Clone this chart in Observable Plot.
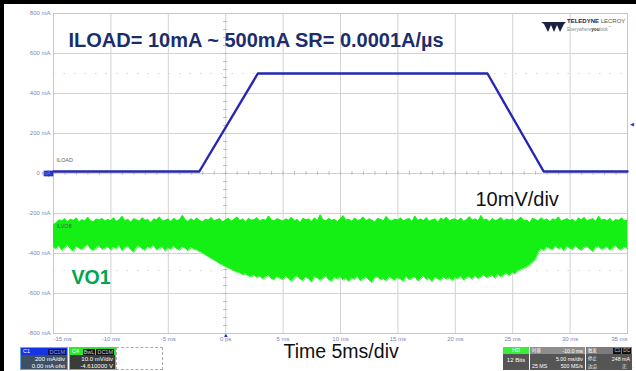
<!DOCTYPE html>
<html>
<head>
<meta charset="utf-8">
<script src="https://cdn.jsdelivr.net/npm/d3@7"></script>
<script src="https://cdn.jsdelivr.net/npm/@observablehq/plot@0.6"></script>
<style>
  html, body { margin: 0; padding: 0; background: #fff; }
  #wrap { position: relative; width: 636px; height: 371px; overflow: hidden; background: #fff;
          font-family: "Liberation Sans", Arial, sans-serif; }
  #wrap > svg { position: absolute; left: 0; top: 0; }
  .edge { position: absolute; background: #000; }
  .box { position: absolute; font-size: 6px; line-height: 7px; color: #fff; box-sizing: border-box; overflow: hidden; }
  .hdr { height: 7px; position: relative; font-size: 5.5px; line-height: 7px; padding: 0 2px; white-space: nowrap; }
  .bd  { padding: 1px 2px 0 2px; text-align: right; white-space: pre; }
  .t { position: absolute; white-space: nowrap; font-size: 5.3px; line-height: 6px; }
  .chip { display: inline-block; background: #111; color: #ccc; padding: 0 1px; margin-left: 1px; line-height: 6px; }
  .cjk { font-family: "Noto Sans CJK SC", sans-serif; font-size: 4.4px; line-height: 5px; }
  #logo { position: absolute; left: 540px; top: 17px; width: 92px; height: 16px; }
</style>
</head>
<body>
<div id="wrap"></div>
<script>
// Horizontal time axis (ms), 5 ms per division
const timeTicks = [-15, -10, -5, 0, 5, 10, 15, 20, 25, 30, 35];
const timeTickLabels = ["-15 ms", "-10 ms", "-5 ms", "0 ps", "5 ms", "10 ms", "15 ms", "20 ms", "25 ms", "30 ms", "35 ms"];

// Vertical axis (C1 scale, 200 mA per division)
const levelTicks = [800, 600, 400, 200, 0, -200, -400, -600, -800];
const levelTickLabels = ["800 mA", "600 mA", "400 mA", "200 mA", "0 mA", "-200 mA", "-400 mA", "-600 mA", "-800 mA"];

// ILOAD (C1): corner points of the load step, mA
const iloadTime = [-15, -2.3, 2.8, 22.8, 27.7, 35];
const iloadMA   = [10, 10, 500, 500, 10, 10];

// VO1 (C4) ripple envelope, one pair every 0.25 ms, in grid units (200 per 10 mV div)
const vo1Start = -15, vo1Step = 0.25;
const vo1Top = [
  -258, -246, -232, -238, -226, -241, -229, -235, -222, -244, -231, -237, -219, -236, -243, -228, -234, -225, -239, -230,
  -236, -222, -240, -231, -214, -237, -229, -245, -226, -233, -239, -221, -235, -230, -247, -227, -232, -218, -238, -234,
  -228, -241, -224, -236, -231, -209, -233, -240, -226, -237, -222, -235, -243, -229, -234, -220, -238, -231, -226, -242,
  -233, -224, -239, -230, -217, -236, -228, -244, -225, -234, -231, -221, -240, -229, -235, -212, -233, -238, -226, -232,
  -239, -227, -234, -219, -237, -230, -246, -224, -232, -228, -241, -222, -236, -206, -231, -238, -225, -235, -229, -243,
  -226, -211, -234, -229, -240, -223, -236, -231, -218, -238, -227, -233, -244, -225, -230, -237, -215, -232, -239, -228,
  -234, -222, -238, -230, -225, -241, -213, -235, -228, -236, -221, -239, -232, -227, -245, -224, -233, -219, -237, -230,
  -228, -236, -223, -240, -231, -216, -234, -227, -238, -210, -232, -229, -242, -225, -236, -231, -220, -239, -228, -234,
  -226, -241, -230, -219, -237, -233, -246, -224, -231, -238, -222, -235, -228, -243, -227, -234, -217, -239, -232, -226,
  -236, -229, -244, -223, -233, -220, -238, -231, -226, -240, -214, -234, -229, -237, -225, -242, -230, -235, -222, -238,
  -233
];
const vo1Bottom = [
  -368, -379, -364, -385, -371, -360, -377, -390, -366, -374, -382, -369, -357, -378, -386, -372, -363, -380, -375, -367,
  -383, -370, -376, -361, -388, -373, -366, -381, -395, -371, -364, -378, -385, -369, -374, -360, -382, -376, -367, -389,
  -372, -380, -365, -377, -384, -369, -375, -388, -370, -379, -383, -391, -397, -408, -416, -425, -434, -441, -452, -458,
  -466, -474, -480, -487, -494, -498, -506, -503, -512, -517, -509, -521, -515, -528, -519, -511, -526, -533, -518, -524,
  -531, -516, -525, -540, -522, -513, -529, -536, -520, -527, -544, -518, -523, -535, -526, -514, -532, -539, -521, -528,
  -517, -534, -526, -541, -522, -530, -515, -537, -528, -520, -533, -546, -524, -518, -531, -527, -538, -519, -525, -535,
  -522, -529, -540, -516, -533, -525, -519, -537, -528, -514, -531, -524, -542, -520, -527, -535, -517, -530, -523, -536,
  -521, -528, -515, -533, -524, -518, -530, -512, -526, -520, -507, -523, -516, -511, -525, -504, -518, -509, -500, -512,
  -496, -503, -488, -481, -475, -467, -458, -446, -432, -395, -378, -386, -369, -375, -382, -364, -377, -371, -388, -366,
  -374, -381, -362, -377, -385, -370, -367, -379, -391, -373, -365, -380, -376, -368, -384, -372, -361, -378, -383, -370,
  -375
];

// Trigger: level on C1 (mA) and position (ms)
const triggerLevel = 248;
const triggerTime = 0;

// Faint reference levels
const refLevels = [500, -485];

const iload = iloadTime.map((t, i) => ({t, v: iloadMA[i]}));
const vo1 = vo1Top.map((hi, i) => ({t: vo1Start + i * vo1Step, hi, lo: vo1Bottom[i]}));

const minorTime = d3.range(-15, 35.01, 1);
const minorLevel = d3.range(-800, 800.01, 40);

const tickLabel = (ticks, labels) => d => labels[ticks.indexOf(d)];
const axisColor = "#7f7fb8";

const chart = Plot.plot({
  width: 636,
  height: 371,
  marginLeft: 53,
  marginRight: 9,
  marginTop: 13,
  marginBottom: 38,
  x: {domain: [-15, 35]},
  y: {domain: [-800, 800]},
  style: {fontFamily: "Liberation Sans, Arial, sans-serif", background: "transparent", overflow: "visible"},
  marks: [
    Plot.gridX(timeTicks, {stroke: "#d2d2d2", strokeOpacity: 1}),
    Plot.gridY(levelTicks, {stroke: "#d2d2d2", strokeOpacity: 1}),
    Plot.ruleY(refLevels, {stroke: "#d9d9c8", strokeDasharray: "1.5,9"}),
    Plot.ruleX(minorTime, {x: d => d, y1: -9, y2: 9, stroke: "#b8b8b8"}),
    Plot.ruleY(minorLevel, {y: d => d, x1: -0.18, x2: 0.18, stroke: "#b8b8b8"}),
    Plot.frame({stroke: "#c6c6c6"}),

    // VO1 ripple band
    Plot.areaY(vo1, {x: "t", y1: "lo", y2: "hi", fill: "#14f014"}),
    Plot.line(vo1, {x: "t", y: "hi", stroke: "#14f014", strokeWidth: 0.8}),
    Plot.line(vo1, {x: "t", y: "lo", stroke: "#14f014", strokeWidth: 0.8}),

    // ILOAD trace
    Plot.line(iload, {x: "t", y: "v", stroke: "#2626b4", strokeWidth: 2.4}),

    // C1 offset marker and trace labels
    Plot.dot([iload[0]], {x: "t", y: 0, dx: -7, symbol: "square", r: 3.2, fill: "#2233cc"}),
    Plot.dot([iload[0]], {x: "t", y: 0, dx: -3, symbol: "square", r: 3.2, fill: "#2233cc"}),
    Plot.text([iload[0]], {x: "t", y: "v", text: () => "ILOAD", dx: 3, dy: -11, textAnchor: "start", fontSize: 5.5, fill: "#666"}),
    Plot.text([vo1[0]], {x: "t", y: "hi", text: () => "ILVO8", dx: 3, dy: 1.5, textAnchor: "start", fontSize: 5.5, fill: "#555"}),

    // Trigger markers
    Plot.text([triggerLevel], {x: 35, y: d => d, text: () => "◀", dx: 4, fontSize: 5, fill: "#2233cc"}),
    Plot.text([triggerTime], {x: d => d, frameAnchor: "bottom", text: () => "▲", dy: 3, fontSize: 6, fill: "#2233cc"}),

    // Axes
    Plot.axisY(levelTicks, {tickFormat: tickLabel(levelTicks, levelTickLabels), tickSize: 0, tickPadding: 3, fontSize: 6, color: axisColor}),
    Plot.axisX(timeTicks.slice(0, 1), {tickFormat: tickLabel(timeTicks, timeTickLabels), tickSize: 0, tickPadding: 3, fontSize: 6, color: axisColor, textAnchor: "start"}),
    Plot.axisX(timeTicks.slice(1, -1), {tickFormat: tickLabel(timeTicks, timeTickLabels), tickSize: 0, tickPadding: 3, fontSize: 6, color: axisColor}),
    Plot.axisX(timeTicks.slice(-1), {tickFormat: tickLabel(timeTicks, timeTickLabels), tickSize: 0, tickPadding: 3, fontSize: 6, color: axisColor, textAnchor: "end"}),

    // Annotations
    Plot.text(["ILOAD= 10mA ~ 500mA SR= 0.0001A/µs"], {text: d => d, frameAnchor: "top-left", dx: 15, dy: 27, textAnchor: "start", lineAnchor: "middle", fontSize: 20, fontWeight: "bold", fill: "#1c2d6c"}),
    Plot.text(["10mV/div"], {text: d => d, frameAnchor: "top-left", dx: 422, dy: 186.5, textAnchor: "start", lineAnchor: "middle", fontSize: 20, fill: "#111"}),
    Plot.text(["VO1"], {text: d => d, frameAnchor: "top-left", dx: 18, dy: 264.5, textAnchor: "start", lineAnchor: "middle", fontSize: 19.5, fontWeight: "bold", fill: "#00a550"}),
    Plot.text(["Time 5ms/div"], {text: d => d, frameAnchor: "top-left", dx: 230, dy: 338, textAnchor: "start", lineAnchor: "middle", fontSize: 19.5, fill: "#111"})
  ]
});

const wrap = document.getElementById("wrap");
wrap.appendChild(chart);

// Capture edges, maker logo and the scope's channel / timebase / trigger readouts
wrap.insertAdjacentHTML("beforeend", `
  <div class="edge" style="left:0;top:0;width:636px;height:4px"></div>
  <div class="edge" style="left:0;top:0;width:4px;height:371px"></div>

  <div id="logo">
    <svg width="28" height="16" style="position:absolute;left:0;top:1px">
      <path d="M1,4 L26,4 L24,6 L20,14 L17,7 L14,14 L11,7 L8,14 L4,6 Z" fill="#1d2240"/>
    </svg>
    <div style="position:absolute;left:27px;top:1px;font-size:6px;line-height:6px;white-space:nowrap;color:#1d2240;font-weight:bold;">TELEDYNE <span style="font-weight:normal;color:#555">LECROY</span></div>
    <div style="position:absolute;left:27px;top:8px;font-size:4.6px;line-height:5px;white-space:nowrap;color:#888;">Everywhere<b style="color:#333">you</b>look<sup style="font-size:3px">™</sup></div>
  </div>

  <div class="box" style="left:20px;top:347px;width:48px;height:23px;background:#3e5064;border:1px solid #6aa6e0;">
    <div class="hdr" style="background:#1434e6;">C1<span style="position:absolute;right:1px;top:0.5px"><span class="chip" style="background:#0a1460;color:#8fa0e0">DC1M</span></span></div>
    <div class="bd">200 mA/div
0.00 mA ofst</div>
  </div>
  <div class="box" style="left:69px;top:347px;width:47px;height:23px;background:#3a3c3a;border:1px solid #4fd24f;">
    <div class="hdr" style="background:#2fe62f;color:#fff;">C4<span style="position:absolute;right:1px;top:0.5px"><span class="chip">BwL</span><span class="chip">DC1M</span></span></div>
    <div class="bd">10.0 mV/div
-4.610000 V</div>
  </div>
  <div class="box" style="left:116px;top:347px;width:47px;height:23px;border:1px dashed #aaa;"></div>

  <div class="box" style="left:503px;top:347px;width:26px;height:23px;background:#555;">
    <div class="hdr" style="background:#38ee38;text-align:center;">HD</div>
    <div class="bd" style="text-align:center;padding-top:3px">12 Bits</div>
  </div>
  <div class="box" style="left:530px;top:347px;width:55px;height:23px;background:#555;">
    <div style="position:absolute;left:0;top:0;width:55px;height:7px;background:#8e8e8e"></div>
    <span class="t cjk" style="left:2px;top:1px">时基</span>
    <span class="t" style="right:2px;top:0.5px">-10.0 ms</span>
    <span class="t" style="right:2px;top:8.5px">5.00 ms/div</span>
    <span class="t" style="left:2px;top:16px">25 MS</span>
    <span class="t" style="right:2px;top:16px">500 MS/s</span>
  </div>
  <div class="box" style="left:586px;top:347px;width:46px;height:23px;background:#555;">
    <div style="position:absolute;left:0;top:0;width:46px;height:7px;background:#7c7c7c"></div>
    <span class="t cjk" style="left:2px;top:1px">触发</span>
    <span class="t" style="right:1px;top:0.5px;font-size:4.6px"><span class="chip">C1</span><span class="chip">DC</span></span>
    <span class="t cjk" style="left:2px;top:9px">停止</span>
    <span class="t" style="right:2px;top:8.5px">248 mA</span>
    <span class="t cjk" style="left:2px;top:16.5px">边沿</span>
    <span class="t" style="left:36px;top:16.5px;font-size:4.6px;line-height:5px">正</span>
  </div>
`);
</script>
</body>
</html>
